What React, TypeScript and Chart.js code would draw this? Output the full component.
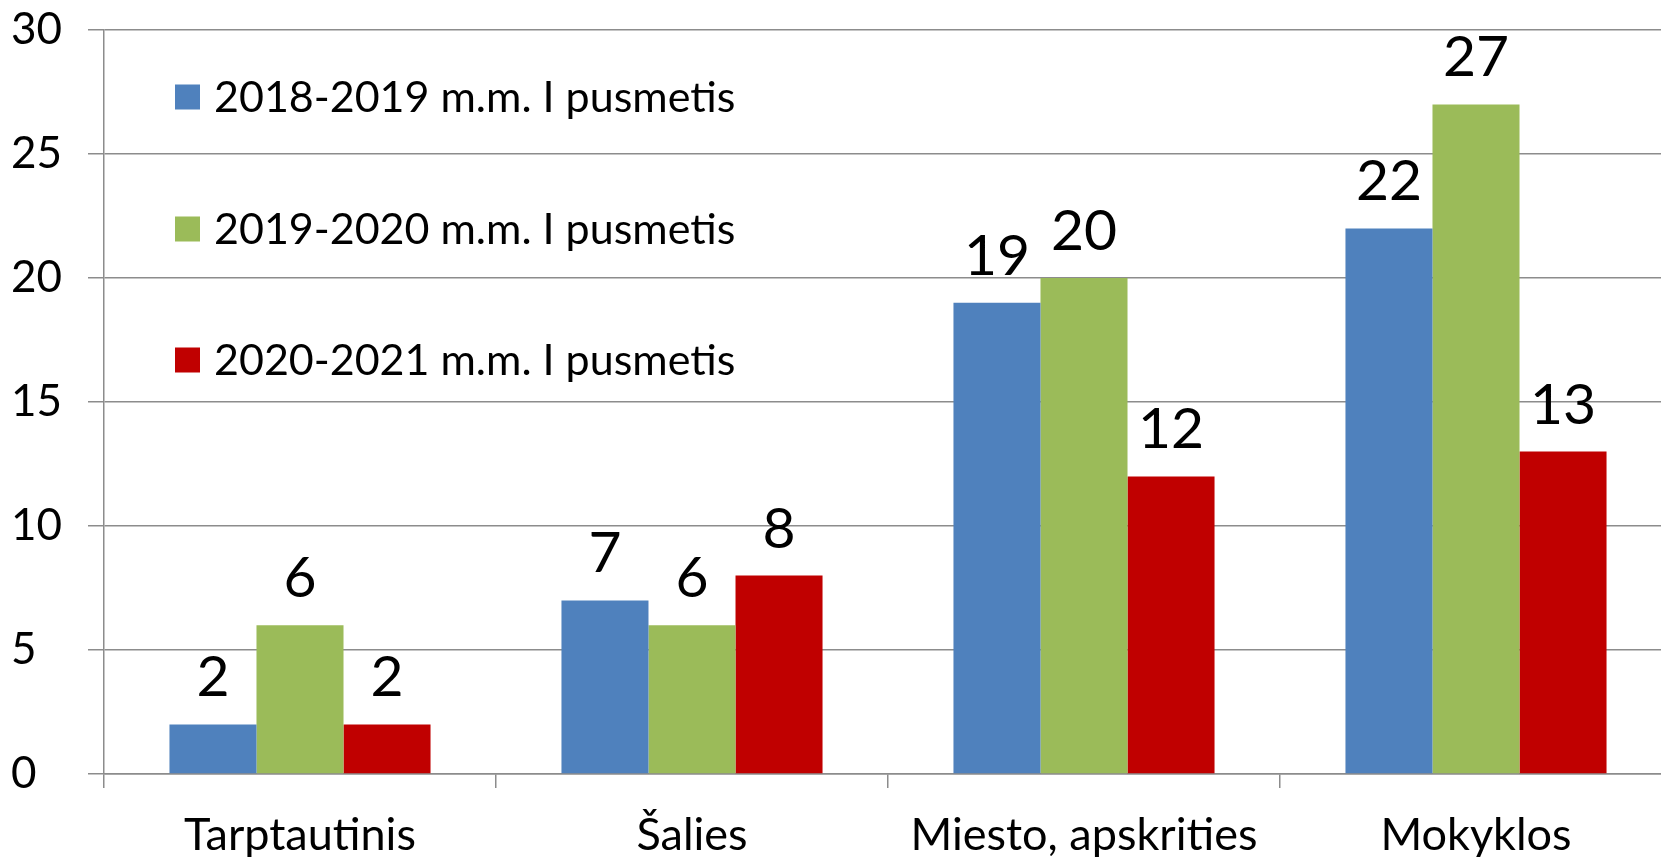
import React, { useEffect, useRef } from "react";
import { Chart, registerables } from "chart.js";

Chart.register(...registerables);

const categories = ["Tarptautinis", "Šalies", "Miesto, apskrities", "Mokyklos"];
const seriesLabels = [
  "2018-2019 m.m. I pusmetis",
  "2019-2020 m.m. I pusmetis",
  "2020-2021 m.m. I pusmetis",
];
const values2018 = [2, 7, 19, 22];
const values2019 = [6, 6, 20, 27];
const values2020 = [2, 8, 12, 13];
const seriesColors = ["#4F81BD", "#9BBB59", "#C00000"];
const yMin = 0;
const yMax = 30;
const yStep = 5;

const FONT = "Lato, 'Open Sans', sans-serif";
const GRID = "#8C8C8C";

const dataLabelPlugin = {
  id: "dataLabelPlugin",
  afterDatasetsDraw(chart: any) {
    const ctx = chart.ctx;
    ctx.save();
    ctx.fillStyle = "#000";
    ctx.font = `57px ${FONT}`;
    ctx.textAlign = "center";
    ctx.textBaseline = "alphabetic";
    chart.data.datasets.forEach((ds: any, i: number) => {
      const meta = chart.getDatasetMeta(i);
      meta.data.forEach((el: any, j: number) => {
        ctx.fillText(String(ds.data[j]), el.x, el.y - 28);
      });
    });
    ctx.restore();
  },
};

const legendPlugin = {
  id: "legendPlugin",
  afterDraw(chart: any) {
    const ctx = chart.ctx;
    ctx.save();
    ctx.font = `43px ${FONT}`;
    ctx.textAlign = "left";
    ctx.textBaseline = "middle";
    const rows = [97, 229, 360];
    chart.data.datasets.forEach((ds: any, i: number) => {
      const cy = rows[i];
      ctx.fillStyle = ds.backgroundColor;
      ctx.fillRect(175, cy - 12.5, 25, 25);
      ctx.fillStyle = "#000";
      ctx.fillText(ds.label, 214, cy + 1);
    });
    ctx.restore();
  },
};

export default function App() {
  const ref = useRef<HTMLCanvasElement>(null);
  useEffect(() => {
    if (!ref.current) return;
    const series = [values2018, values2019, values2020];
    const chart = new Chart(ref.current, {
      type: "bar",
      data: {
        labels: categories,
        datasets: series.map((d, i) => ({
          label: seriesLabels[i],
          data: d,
          backgroundColor: seriesColors[i],
          borderWidth: 0,
          barPercentage: 1,
          categoryPercentage: 0.666,
        })),
      },
      options: {
        responsive: false,
        animation: false,
        devicePixelRatio: 1,
        layout: { padding: { left: 11, top: 30, right: 8, bottom: 0 } },
        plugins: { legend: { display: false }, tooltip: { enabled: false } },
        scales: {
          x: {
            grid: { drawOnChartArea: false, drawTicks: true, tickLength: 14, color: GRID, lineWidth: 1.5, offset: true },
            border: { color: GRID, width: 1.5 },
            ticks: { color: "#000", font: { family: FONT, size: 45 }, padding: 20, maxRotation: 0 },
            afterFit: (s: any) => {
              s.height = 83;
              s.paddingLeft = 0;
              s.paddingRight = 0;
            },
          },
          y: {
            min: yMin,
            max: yMax,
            ticks: { stepSize: yStep, color: "#000", font: { family: FONT, size: 44 }, crossAlign: "far", padding: 10 },
            grid: { color: GRID, lineWidth: 1.5, tickLength: 16 },
            border: { color: GRID, width: 1.5 },
            afterFit: (s: any) => {
              s.width = 93;
              s.paddingTop = 0;
              s.paddingBottom = 0;
            },
          },
        },
      },
      plugins: [dataLabelPlugin, legendPlugin],
    });
    return () => chart.destroy();
  }, []);
  return (
    <div style={{ position: "fixed", left: 0, top: 0, width: 1661, height: 857, overflow: "hidden", background: "#fff" }}>
      <canvas ref={ref} width={1680} height={857} style={{ display: "block", width: 1680, height: 857 }} />
    </div>
  );
}
